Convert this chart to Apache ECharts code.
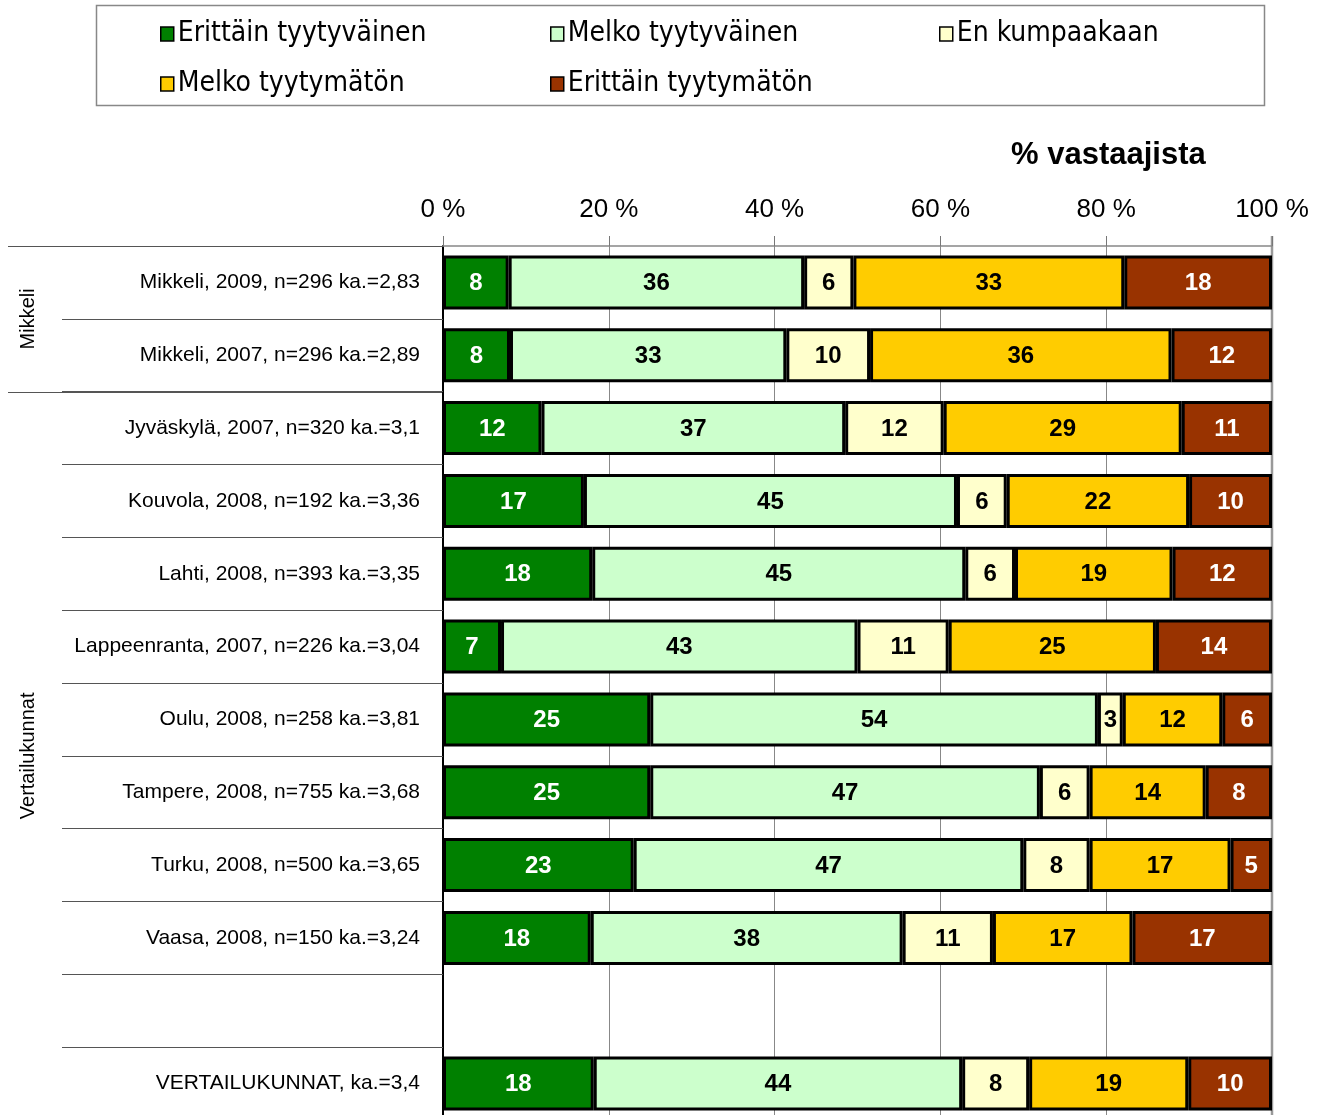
<!DOCTYPE html>
<html>
<head>
<meta charset="utf-8">
<script src="https://cdn.jsdelivr.net/npm/echarts@6/dist/echarts.min.js"></script>
<style>
html,body{margin:0;padding:0;background:#fff;overflow:hidden;}
#chart{width:1320px;height:1130px;}
</style>
</head>
<body>
<div id="chart"></div>
<script>
var categories = [
  "Mikkeli, 2009, n=296 ka.=2,83",
  "Mikkeli, 2007, n=296 ka.=2,89",
  "Jyväskylä, 2007, n=320 ka.=3,1",
  "Kouvola, 2008, n=192 ka.=3,36",
  "Lahti, 2008, n=393 ka.=3,35",
  "Lappeenranta, 2007, n=226 ka.=3,04",
  "Oulu, 2008, n=258 ka.=3,81",
  "Tampere, 2008, n=755 ka.=3,68",
  "Turku, 2008, n=500 ka.=3,65",
  "Vaasa, 2008, n=150 ka.=3,24",
  "",
  "VERTAILUKUNNAT, ka.=3,4"
];
var seriesNames = ["Erittäin tyytyväinen","Melko tyytyväinen","En kumpaakaan","Melko tyytymätön","Erittäin tyytymätön"];
var erittainTyytyvainen = [8, 8, 12, 17, 18, 7, 25, 25, 23, 18, null, 18];
var melkoTyytyvainen    = [36, 33, 37, 45, 45, 43, 54, 47, 47, 38, null, 44];
var enKumpaakaan        = [6, 10, 12, 6, 6, 11, 3, 6, 8, 11, null, 8];
var melkoTyytymaton     = [33, 36, 29, 22, 19, 25, 12, 14, 17, 17, null, 19];
var erittainTyytymaton  = [18, 12, 11, 10, 12, 14, 6, 8, 5, 17, null, 10];
var xTicks = [0, 20, 40, 60, 80, 100];
var groups = [
  {name: "Mikkeli", from: 0, to: 1},
  {name: "Vertailukunnat", from: 2, to: 11}
];

var raw = [erittainTyytyvainen, melkoTyytyvainen, enKumpaakaan, melkoTyytymaton, erittainTyytymaton];
var colors = ["#008000", "#CCFFCC", "#FFFFCC", "#FFCC00", "#993300"];
var labelColors = ["#ffffff", "#000000", "#000000", "#000000", "#ffffff"];

// 100% stacked: normalise each row to its total
var totals = categories.map(function(c, i){
  var s = 0; raw.forEach(function(a){ if (a[i] != null) s += a[i]; }); return s;
});
var series = raw.map(function(arr, k){
  return {
    name: seriesNames[k],
    type: 'bar',
    stack: 'total',
    barWidth: 54,
    data: arr.map(function(v, i){ return v == null ? null : v / totals[i] * 100; }),
    itemStyle: {color: colors[k], borderColor: '#000', borderWidth: 3},
    label: {
      show: true, position: 'inside', offset: [0, 1],
      fontFamily: 'Liberation Sans, Arial, sans-serif',
      fontWeight: 'bold', fontSize: 24, color: labelColors[k],
      formatter: function(p){ var v = arr[p.dataIndex]; return v == null ? '' : String(v); }
    },
    emphasis: {disabled: true}
  };
});

var legendPos = [[155, 15], [545, 15], [934, 15], [155, 65], [545, 65]];
var legends = seriesNames.map(function(n, k){
  return {
    data: [n], left: legendPos[k][0], top: legendPos[k][1],
    icon: 'rect',
    itemWidth: 13, itemHeight: 14, itemGap: 4,
    itemStyle: {borderColor: '#000', borderWidth: 1.5},
    textStyle: {fontFamily: "'Liberation Sans Narrow', 'DejaVu Sans Condensed', 'Liberation Sans', sans-serif", fontSize: 28, color: '#000', padding: [0,0,0,-1]},
    selectedMode: false
  };
});

var chart = echarts.init(document.getElementById('chart'), null, {renderer: 'canvas'});
var option = {
  animation: false,
  backgroundColor: '#fff',
  title: {
    text: '% vastaajista', left: 1006, top: 135,
    textStyle: {fontFamily: 'Liberation Sans, Arial, sans-serif', fontWeight: 'bold', fontSize: 31, color: '#000'}
  },
  legend: legends,
  grid: {left: 443, right: 48, top: 246, height: 874, containLabel: false},
  xAxis: {
    type: 'value', position: 'top', min: 0, max: 100, interval: 20,
    axisLine: {show: true, lineStyle: {color: '#888', width: 1.5}},
    axisTick: {show: true, length: 10, lineStyle: {color: '#777', width: 1}},
    splitLine: {show: true, lineStyle: {color: '#888', width: 1}},
    axisLabel: {
      formatter: '{value} %', margin: 23,
      fontFamily: 'Liberation Sans, Arial, sans-serif', fontSize: 26, color: '#000'
    }
  },
  yAxis: {
    type: 'category', inverse: true, data: categories,
    axisLine: {show: true, lineStyle: {color: '#000', width: 2}},
    axisTick: {show: true, length: 381, lineStyle: {color: '#555', width: 1.2}},
    axisLabel: {
      margin: 23, fontFamily: 'Liberation Sans, Arial, sans-serif', fontSize: 21, color: '#000'
    }
  },
  series: series
};
chart.setOption(option);

// decorations: legend frame, group lines and group labels, positioned from the axis scale
var y0 = chart.convertToPixel({yAxisIndex: 0}, categories[0]);
var y1 = chart.convertToPixel({yAxisIndex: 0}, categories[1]);
var band = y1 - y0;
var xLeft = chart.convertToPixel({xAxisIndex: 0}, 0);
var xRight = chart.convertToPixel({xAxisIndex: 0}, 100);
var graphics = [{
  type: 'rect', shape: {x: 96.5, y: 5.5, width: 1168, height: 100},
  style: {fill: 'none', stroke: '#888', lineWidth: 1.5}, z: 0
}, {
  type: 'line', shape: {x1: xRight, y1: 236, x2: xRight, y2: 1130},
  style: {stroke: '#999', lineWidth: 2.5}, z: 0
}];
groups.forEach(function(g){
  var top = chart.convertToPixel({yAxisIndex: 0}, categories[g.from]) - band / 2;
  var bot = chart.convertToPixel({yAxisIndex: 0}, categories[g.to]) + band / 2;
  graphics.push({
    type: 'line', shape: {x1: 8, y1: Math.round(top) + 0.5, x2: xLeft, y2: Math.round(top) + 0.5},
    style: {stroke: '#555', lineWidth: 1.2}
  });
  graphics.push({
    type: 'text', x: 28, y: (top + bot) / 2, rotation: Math.PI / 2,
    style: {text: g.name, fontFamily: 'Liberation Sans, Arial, sans-serif', fontSize: 20, fill: '#000',
            textAlign: 'center', textVerticalAlign: 'middle'}
  });
});
chart.setOption({graphic: graphics});
</script>
</body>
</html>
